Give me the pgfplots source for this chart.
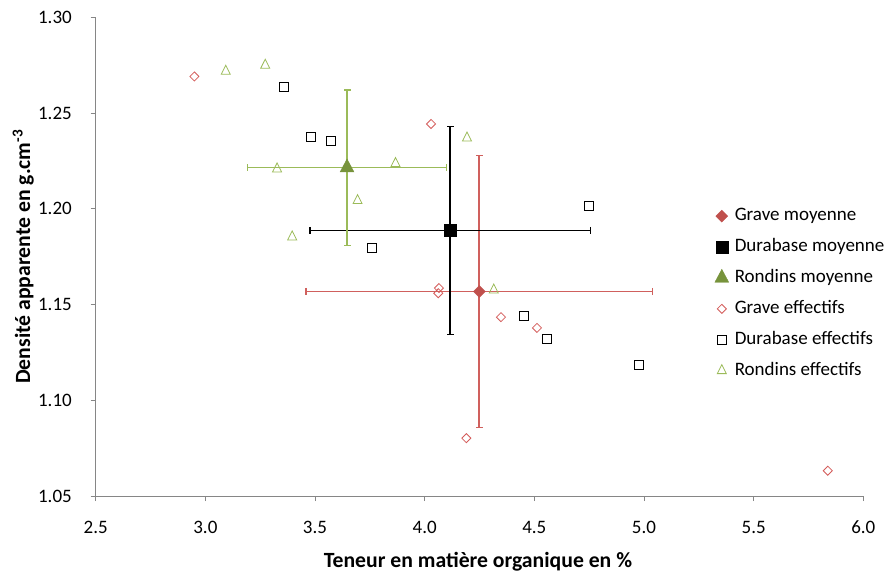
\documentclass[border=0pt]{standalone}
\usepackage{fontspec}
\setmainfont{Carlito}
\usepackage{pgfplots}
\pgfplotsset{compat=1.18}
\definecolor{axisgray}{HTML}{868686}
\definecolor{gravR}{HTML}{C0504D}
\definecolor{gravL}{HTML}{D45C5A}
\definecolor{gravE}{HTML}{D0605D}
\definecolor{ronD}{HTML}{77933C}
\definecolor{ronL}{HTML}{9BBB59}
\definecolor{ronE}{HTML}{9BBB59}
\begin{document}
\begin{tikzpicture}
\begin{axis}[
  at={(95.7bp,77bp)}, anchor=south west,
  scale only axis, width=767.6bp, height=478.7bp,
  xmin=2.5, xmax=6, ymin=1.05, ymax=1.30,
  axis lines*=left,
  axis line style={draw=axisgray, line width=0.8bp},
  xtick={2.5,3.0,3.5,4.0,4.5,5.0,5.5,6.0},
  ytick={1.05,1.10,1.15,1.20,1.25,1.30},
  tick align=outside, major tick length=5bp,
  tick style={draw=axisgray, line width=0.8bp},
  /pgf/number format/assume math mode=true,
  ticklabel style={font=\fontsize{19bp}{22bp}\selectfont, inner sep=0pt},
  xticklabel style={/pgf/number format/.cd, fixed, fixed zerofill, precision=1, /tikz/.cd, anchor=base, yshift=-32bp},
  yticklabel style={/pgf/number format/.cd, fixed, fixed zerofill, precision=2, /tikz/.cd, anchor=east, xshift=-18.7bp},
  xlabel={Teneur en matière organique en \%},
  ylabel={Densité apparente en g.cm\textsuperscript{-3}},
  label style={font=\fontsize{21.7bp}{24bp}\selectfont\bfseries},
  xlabel style={at={(axis description cs:0.498,0)}, anchor=center, yshift=-65.7bp},
  ylabel style={at={(axis description cs:-0.0943,0.5)}, anchor=center},
  legend cell align=left,
  legend image code/.code={\draw[#1] plot coordinates {(0bp,0bp)};},
  legend style={at={(axis description cs:0.8025,0.608)}, anchor=north west, draw=none, fill=none,
    font=\fontsize{19bp}{22bp}\selectfont, row sep=12.9bp,
    nodes={inner sep=0pt, text height=13.5bp, text depth=4.5bp},
    /tikz/every odd column/.append style={column sep=6bp}},
]
% error bars of the means (drawn as lines with end caps)
\addplot[forget plot, draw=gravE, line width=1.6bp, mark=|, mark size=3.5bp, mark options={solid, line width=1.2bp}]
  coordinates {(3.459,1.1568) (5.039,1.1568)};
\addplot[forget plot, draw=gravE, line width=1.6bp, mark=-, mark size=3.5bp, mark options={solid, line width=1.2bp}]
  coordinates {(4.249,1.0858) (4.249,1.2278)};
\addplot[forget plot, draw=black, line width=1.3bp, mark=|, mark size=3.5bp, mark options={solid, line width=1.1bp}]
  coordinates {(3.477,1.1887) (4.755,1.1887)};
\addplot[forget plot, draw=black, line width=1.3bp, mark=-, mark size=3.5bp, mark options={solid, line width=1.1bp}]
  coordinates {(4.116,1.1344) (4.116,1.2430)};
\addplot[forget plot, draw=ronE, line width=1.6bp, mark=|, mark size=3.5bp, mark options={solid, line width=1.2bp}]
  coordinates {(3.193,1.2215) (4.099,1.2215)};
\addplot[forget plot, draw=ronE, line width=1.6bp, mark=-, mark size=3.5bp, mark options={solid, line width=1.2bp}]
  coordinates {(3.646,1.1810) (3.646,1.2620)};
% means
\addplot[only marks, mark=square*, mark size=4.2bp, mark options={rotate=45, draw=gravR, fill=gravR}]
  coordinates {(4.249,1.1568)};
\addlegendentry{Grave moyenne}
\addplot[only marks, mark=square*, mark size=6bp, mark options={draw=black, fill=black}]
  coordinates {(4.116,1.1887)};
\addlegendentry{Durabase moyenne}
\addplot[only marks, mark=triangle*, mark size=8bp, mark options={draw=ronD, fill=ronD, yscale=1.08}]
  coordinates {(3.646,1.2215)};
\addlegendentry{Rondins moyenne}
% individual values
\addplot[only marks, mark=square, mark size=3.2bp, mark options={rotate=45, draw=gravL, line width=0.8bp}]
  coordinates {(2.950,1.2691) (4.029,1.2443) (4.065,1.1586) (4.062,1.1559)
               (4.348,1.1434) (4.512,1.1378) (4.190,1.0802) (5.838,1.0632)};
\addlegendentry{Grave effectifs}
\addplot[only marks, mark=square, mark size=4.5bp, mark options={draw=black, line width=0.8bp}]
  coordinates {(3.359,1.2635) (3.482,1.2375) (3.572,1.2354) (3.759,1.1795)
               (4.751,1.2014) (4.454,1.1441) (4.557,1.1319) (4.976,1.1187)};
\addlegendentry{Durabase effectifs}
\addplot[only marks, mark=triangle, mark size=5.2bp, mark options={draw=ronL, line width=0.8bp, yscale=1.15}]
  coordinates {(3.093,1.2718) (3.273,1.2750) (3.327,1.2208) (3.867,1.2236)
               (3.694,1.2043) (3.396,1.1853) (4.193,1.2370) (4.315,1.1576)};
\addlegendentry{Rondins effectifs}
\end{axis}
\pgfresetboundingbox
\path[use as bounding box] (0bp,0bp) rectangle (888bp,573bp);
\end{tikzpicture}
\end{document}
